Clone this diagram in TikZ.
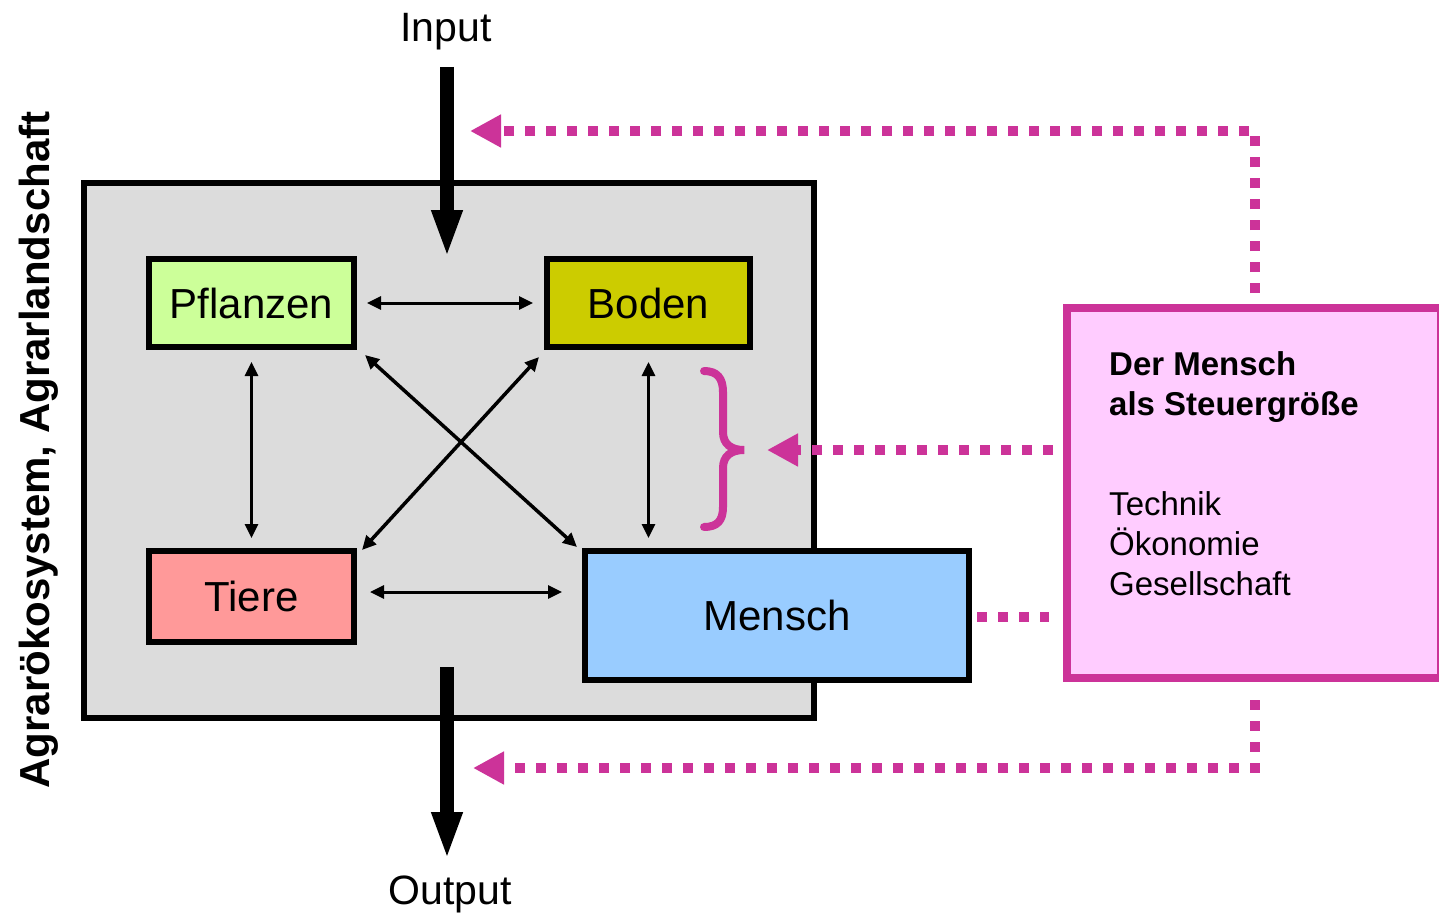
\documentclass[tikz,border=0pt]{standalone}
\usepackage{fontspec}
\setmainfont{Liberation Sans}
\usetikzlibrary{arrows.meta}
\definecolor{pinkline}{HTML}{CC3399}
\definecolor{pinkfill}{HTML}{FFCCFF}
\definecolor{grayfill}{HTML}{DCDCDC}
\definecolor{plantc}{HTML}{CCFF99}
\definecolor{bodenc}{HTML}{CCCC00}
\definecolor{tierc}{HTML}{FF9999}
\definecolor{menschc}{HTML}{99CCFF}
\begin{document}
\begin{tikzpicture}[x=1pt,y=-1pt,
 box/.style={draw=black, line width=6pt, rectangle, inner sep=0pt, text height=30pt, text depth=0pt, font=\fontsize{42}{50}\selectfont},
 thinarrow/.style={line width=3pt, {Triangle[length=14pt,width=13pt]}-{Triangle[length=14pt,width=13pt]}},
 bigarrow/.style={line width=14pt, -{Triangle[length=48pt,width=28pt]}},
 pinkdots/.style={draw=pinkline, line width=10pt, dash pattern=on 10pt off 11pt},
 pinkarrow/.style={pinkdots, -{Triangle[length=31pt,width=31pt,fill=pinkline]}},
 bigtext/.style={font=\fontsize{41}{49}\selectfont},
 sidetext/.style={anchor=base west, inner sep=0pt, font=\fontsize{33}{40}\selectfont},
]
\useasboundingbox (0,0) rectangle (1439,915);
\fill[white] (0,0) rectangle (1439,915);

% system box
\node[draw=black, line width=6pt, fill=grayfill, minimum width=730pt, minimum height=535.5pt, inner sep=0pt] (sys) at (449,450.25) {};

% Input / Output
\node[bigtext, anchor=base] (input) at (446,42) {Input};
\node[bigtext, anchor=base] (output) at (450,904) {Output};
\coordinate (inTop) at (447,67);
\coordinate (inTip) at (447,258);
\coordinate (outTop) at (447,667);
\coordinate (outTip) at (447,860);
\draw[bigarrow] (inTop) -- (inTip);
\draw[bigarrow] (outTop) -- (outTip);

% boxes
\node[box, fill=plantc, minimum width=205pt, minimum height=88pt] (pfl) at (251.5,303) {Pflanzen};
\node[box, fill=bodenc, minimum width=203pt, minimum height=88pt] (bod) at (648.5,303) {Boden};
\node[box, fill=tierc, minimum width=205pt, minimum height=91pt] (tie) at (251.5,596.5) {Tiere};
\node[box, fill=menschc, minimum width=384pt, minimum height=129pt] (men) at (777,615.5) {Mensch};

% thin arrows
\draw[thinarrow] ([shift={(10,0)}]pfl.east) -- ([shift={(-11,0)}]bod.west);
\draw[thinarrow] ([shift={(0,12)}]pfl.south) -- ([shift={(0,-10)}]tie.north);
\draw[thinarrow] ([shift={(0,12)}]bod.south) -- ([shift={(0,-10)}]bod.south |- men.north);
\draw[thinarrow] ([shift={(13,-4.5)}]tie.east) -- ([shift={(-20,-23.5)}]men.west);
\draw[thinarrow, line width=3.5pt] ([shift={(8,5)}]pfl.south east) -- ([shift={(-5,-1)}]men.north west);
\draw[thinarrow, line width=3.5pt] ([shift={(-5,7)}]bod.south west) -- ([shift={(5,2)}]tie.north east);

% control box
\node[draw=pinkline, fill=pinkfill, line width=8pt, minimum width=374pt, minimum height=370.5pt, inner sep=0pt] (steu) at (1254,492.75) {};
\node[sidetext, font=\bfseries\fontsize{33}{40}\selectfont] (s1) at (1109,375) {Der Mensch};
\node[sidetext, font=\bfseries\fontsize{33}{40}\selectfont] (s2) at (1109,415) {als Steuergröße};
\node[sidetext] (s3) at (1109,515) {Technik};
\node[sidetext] (s4) at (1109,555) {Ökonomie};
\node[sidetext] (s5) at (1109,595) {Gesellschaft};

% brace
\draw[pinkline, line width=8pt, line cap=round]
  (704,371) .. controls (717,371) and (723,378) .. (723,392) -- (723,432)
  .. controls (723,444) and (731,450) .. (744,450)
  .. controls (731,450) and (723,456) .. (723,468) -- (723,507)
  .. controls (723,521) and (717,527) .. (704,527);

% pink dotted connectors
\coordinate (topStart) at (1255,293);
\coordinate (topCorner) at (1255,131);
\coordinate (topTip) at (470,131);
\coordinate (midStart) at (1053,450);
\coordinate (midTip) at (767,450);
\coordinate (botStart) at (1255,700);
\coordinate (botCorner) at (1255,768);
\coordinate (botTip) at (473,768);
\draw[pinkarrow] (topStart) -- (topCorner) -- (topTip);
\draw[pinkarrow] (midStart) -- (midTip);
\draw[pinkarrow] (botStart) -- (botCorner) -- (botTip);
\draw[pinkdots] ([shift={(5,1.5)}]men.east) -- ([shift={(-14,1.5)}]men.east -| steu.west);

% side label
\node[rotate=90, anchor=base, font=\bfseries\fontsize{42}{50}\selectfont] (lab) at (49,450) {Agrarökosystem, Agrarlandschaft};
\end{tikzpicture}
\end{document}
